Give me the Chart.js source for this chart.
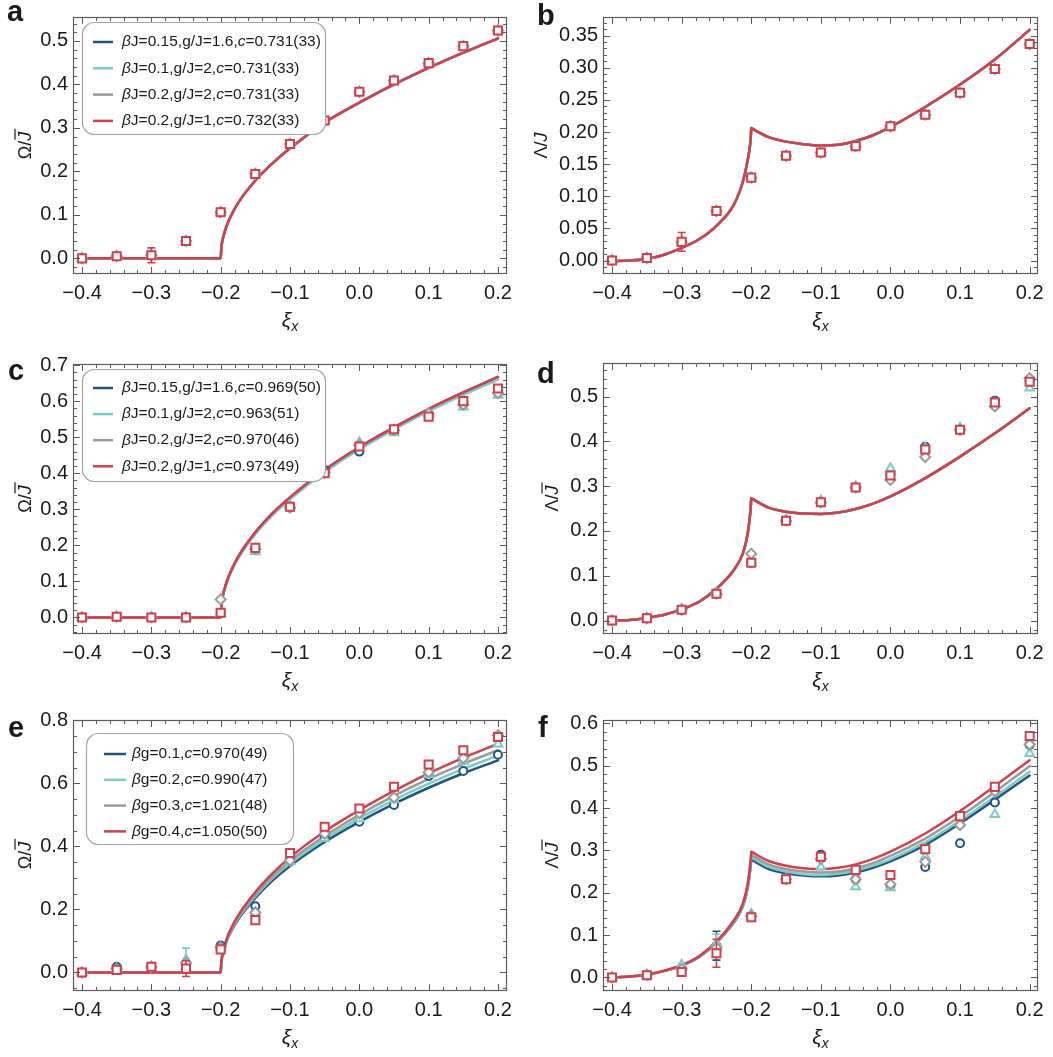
<!DOCTYPE html>
<html lang="en">
<head>
  <meta charset="UTF-8" />
  <title>Ω and Λ versus ξx</title>
  <script src="https://cdn.jsdelivr.net/npm/chart.js"></script>
  <style>
    body { margin: 0; background: #fff; }
    #wrap { position: relative; width: 1053px; height: 1057px; overflow: hidden; }
  </style>
</head>
<body>
  <div id="wrap"></div>

  <script>
    // ---- data ----
    const xData = [-0.4, -0.35, -0.3, -0.25, -0.2, -0.15, -0.1, -0.05, 0, 0.05, 0.1, 0.15, 0.2];

    // Omega curves (flat, then square-root onset at -0.2)
    const xOmega = [-0.4, -0.3, -0.2, -0.199, -0.197, -0.195, -0.19, -0.185, -0.175, -0.15, -0.125, -0.1, -0.05, 0, 0.05, 0.1, 0.15, 0.2];
    const aCurve = [0, 0, 0, 0.025, 0.044, 0.057, 0.08, 0.098, 0.127, 0.179, 0.219, 0.253, 0.312, 0.358, 0.40, 0.438, 0.473, 0.506];
    const cCurve = [0, 0, 0, 0.033, 0.058, 0.075, 0.106, 0.129, 0.167, 0.236, 0.289, 0.333, 0.409, 0.472, 0.527, 0.578, 0.624, 0.667];
    const cCurveCyan = [0, 0, 0, 0.032, 0.056, 0.073, 0.103, 0.126, 0.163, 0.231, 0.284, 0.328, 0.403, 0.466, 0.521, 0.572, 0.617, 0.66];
    const eBlue = [0, 0, 0, 0.033, 0.056, 0.075, 0.107, 0.13, 0.167, 0.236, 0.292, 0.338, 0.414, 0.478, 0.535, 0.586, 0.632, 0.673];
    const eCyan = [0, 0, 0, 0.034, 0.058, 0.077, 0.11, 0.133, 0.171, 0.242, 0.299, 0.346, 0.423, 0.489, 0.547, 0.599, 0.646, 0.688];
    const eGray = [0, 0, 0, 0.035, 0.059, 0.079, 0.112, 0.136, 0.175, 0.247, 0.306, 0.354, 0.433, 0.5, 0.56, 0.614, 0.662, 0.705];
    const eRed = [0, 0, 0, 0.035, 0.06, 0.08, 0.115, 0.14, 0.18, 0.255, 0.315, 0.365, 0.447, 0.515, 0.576, 0.632, 0.681, 0.726];

    // Lambda curves: left branch up to the cusp, right branch after it
    const xLamL = [-0.4, -0.375, -0.35, -0.325, -0.3, -0.275, -0.25, -0.225, -0.212, -0.205, -0.201, -0.2];
    const xLamR = [-0.2, -0.175, -0.15, -0.125, -0.1, -0.075, -0.05, -0.025, 0, 0.05, 0.1, 0.15, 0.2];
    const bLeft = [-0.001, 0, 0.0025, 0.009, 0.0196, 0.033, 0.054, 0.087, 0.123, 0.157, 0.187, 0.206];
    const bRight = [0.206, 0.192, 0.185, 0.181, 0.179, 0.18, 0.186, 0.195, 0.208, 0.239, 0.274, 0.313, 0.359];
    const dLeft = [0, 0.001, 0.006, 0.013, 0.025, 0.042, 0.071, 0.113, 0.15, 0.195, 0.247, 0.273];
    const dRight = [0.273, 0.252, 0.243, 0.239, 0.238, 0.241, 0.249, 0.261, 0.277, 0.318, 0.366, 0.418, 0.474];
    const fBlueL = [0, 0.002, 0.007, 0.015, 0.028, 0.048, 0.082, 0.13, 0.168, 0.212, 0.26, 0.278];
    const fCyanL = [0, 0.002, 0.007, 0.015, 0.028, 0.049, 0.083, 0.132, 0.17, 0.215, 0.265, 0.284];
    const fGrayL = [0, 0.002, 0.007, 0.016, 0.029, 0.049, 0.084, 0.133, 0.172, 0.218, 0.27, 0.29];
    const fRedL = [0, 0.002, 0.007, 0.016, 0.029, 0.05, 0.085, 0.135, 0.175, 0.222, 0.275, 0.297];
    const fBlueR = [0.278, 0.256, 0.246, 0.241, 0.239, 0.241, 0.248, 0.259, 0.274, 0.313, 0.364, 0.42, 0.477];
    const fCyanR = [0.284, 0.261, 0.25, 0.244, 0.242, 0.245, 0.252, 0.264, 0.279, 0.319, 0.37, 0.427, 0.486];
    const fGrayR = [0.29, 0.267, 0.256, 0.25, 0.248, 0.25, 0.258, 0.27, 0.287, 0.328, 0.38, 0.438, 0.499];
    const fRedR = [0.297, 0.275, 0.264, 0.258, 0.256, 0.259, 0.267, 0.28, 0.297, 0.34, 0.393, 0.452, 0.513];

    // simulation points (blue circles, cyan triangles, gray diamonds, red squares)
    const aPts = [0, 0.005, 0.007, 0.04, 0.106, 0.194, 0.263, 0.317, 0.383, 0.409, 0.449, 0.488, 0.524];
    const aErr = [0, 0, 0.017, 0, 0, 0, 0, 0, 0, 0, 0, 0, 0];
    const bPts = [0, 0.004, 0.029, 0.077, 0.129, 0.163, 0.168, 0.178, 0.209, 0.227, 0.261, 0.298, 0.337];
    const bErr = [0, 0, 0.0145, 0, 0, 0, 0, 0, 0, 0, 0, 0, 0];

    const cBluePts = [0, 0.002, 0, 0, 0.012, 0.19, 0.305, 0.409, 0.46, 0.52, 0.56, 0.598, 0.63];
    const cCyanPts = [0, 0.002, 0, 0, 0.01, 0.182, 0.31, 0.403, 0.486, 0.512, 0.565, 0.584, 0.616];
    const cGrayPts = [0, 0.002, 0, 0, 0.05, 0.19, 0.305, 0.402, 0.478, 0.52, 0.566, 0.59, 0.622];
    const cRedPts = [0, 0.002, 0, 0, 0.013, 0.193, 0.307, 0.40, 0.474, 0.522, 0.557, 0.6, 0.635];

    const dBluePts = [0, 0.005, 0.024, 0.06, 0.129, 0.223, 0.264, 0.297, 0.326, 0.388, 0.426, 0.491, 0.533];
    const dCyanPts = [0, 0.006, 0.026, 0.062, 0.13, 0.225, 0.268, 0.3, 0.34, 0.385, 0.43, 0.485, 0.519];
    const dGrayPts = [0, 0.005, 0.024, 0.06, 0.149, 0.223, 0.264, 0.297, 0.314, 0.365, 0.426, 0.478, 0.541];
    const dRedPts = [0, 0.005, 0.024, 0.06, 0.129, 0.223, 0.264, 0.297, 0.324, 0.382, 0.426, 0.487, 0.533];

    const eBluePts = [0, 0.018, 0.018, 0.03, 0.085, 0.21, 0.36, 0.43, 0.478, 0.531, 0.623, 0.639, 0.691];
    const eCyanPts = [0, 0.012, 0.018, 0.04, 0.08, 0.19, 0.35, 0.425, 0.488, 0.548, 0.628, 0.67, 0.725];
    const eGrayPts = [0, 0.012, 0.018, 0.03, 0.08, 0.19, 0.355, 0.44, 0.505, 0.555, 0.635, 0.68, 0.753];
    const eRedPts = [0, 0.008, 0.018, 0.012, 0.073, 0.166, 0.379, 0.462, 0.52, 0.589, 0.66, 0.705, 0.747];
    const eCyanErr = [0, 0, 0, 0.037, 0, 0, 0, 0, 0, 0, 0, 0, 0];
    const eRedErr = [0, 0, 0, 0.025, 0, 0, 0, 0, 0, 0, 0, 0, 0];

    const fBluePts = [0, 0.006, 0.02, 0.075, 0.145, 0.232, 0.29, 0.232, 0.218, 0.261, 0.317, 0.413, 0.549];
    const fCyanPts = [0, 0.006, 0.03, 0.08, 0.15, 0.232, 0.261, 0.214, 0.212, 0.285, 0.365, 0.385, 0.529];
    const fGrayPts = [0, 0.006, 0.02, 0.07, 0.145, 0.232, 0.28, 0.232, 0.22, 0.273, 0.36, 0.44, 0.55];
    const fRedPts = [0, 0.005, 0.013, 0.057, 0.142, 0.232, 0.285, 0.254, 0.242, 0.303, 0.381, 0.45, 0.57];
    const fBlueErr = [0, 0, 0, 0.034, 0, 0, 0, 0, 0, 0, 0, 0, 0];
    const fCyanErr = [0, 0, 0, 0.022, 0, 0, 0, 0, 0, 0, 0, 0, 0];
    const fRedErr = [0, 0, 0, 0.033, 0, 0, 0, 0, 0, 0, 0, 0, 0];

    const legendAB = ['βJ=0.15,g/J=1.6,c=0.731(33)', 'βJ=0.1,g/J=2,c=0.731(33)', 'βJ=0.2,g/J=2,c=0.731(33)', 'βJ=0.2,g/J=1,c=0.732(33)'];
    const legendCD = ['βJ=0.15,g/J=1.6,c=0.969(50)', 'βJ=0.1,g/J=2,c=0.963(51)', 'βJ=0.2,g/J=2,c=0.970(46)', 'βJ=0.2,g/J=1,c=0.973(49)'];
    const legendEF = ['βg=0.1,c=0.970(49)', 'βg=0.2,c=0.990(47)', 'βg=0.3,c=1.021(48)', 'βg=0.4,c=1.050(50)'];

    const xTicks = [-0.4, -0.3, -0.2, -0.1, 0, 0.1, 0.2];

    // ---- styling ----
    const FONT = '"Liberation Sans", Arial, sans-serif';
    Chart.defaults.font.family = FONT;
    const COLORS = ['#205482', '#7ccbc5', '#9b9b9b', '#d2404b'];
    const SHAPES = [['circle', 4], ['triangle', 5], ['rectRot', 5], ['rect', 5.7]];

    function pts(xs, ys) { return xs.map((x, i) => ({ x: x, y: ys[i] })); }
    function cusp(xl, yl, xr, yr) { return pts(xl, yl).concat([{ x: -0.2, y: null }], pts(xr, yr)); }
    function steps(lo, hi, st) {
      const out = [];
      for (let k = Math.ceil(lo / st - 1e-6); k * st <= hi + 1e-9; k++) out.push(+(k * st).toFixed(4));
      return out;
    }
    function fmt(v, d) { return (v < -1e-9 ? '\u2212' : '') + Math.abs(v).toFixed(d); }

    function rrect(ctx, x, y, w, h, r) {
      ctx.beginPath();
      ctx.moveTo(x + r, y);
      ctx.arcTo(x + w, y, x + w, y + h, r);
      ctx.arcTo(x + w, y + h, x, y + h, r);
      ctx.arcTo(x, y + h, x, y, r);
      ctx.arcTo(x, y, x + w, y, r);
      ctx.closePath();
    }

    const deco = {
      id: 'deco',
      beforeDatasetDraw(chart, args) {
        const ds = chart.data.datasets[args.index];
        if (!ds.errs) return;
        const ctx = chart.ctx, ys = chart.scales.y;
        ctx.save();
        ctx.strokeStyle = ds.pointBorderColor;
        ctx.lineWidth = 1.6;
        ds.errs.forEach((e, i) => {
          if (!e) return;
          const px = args.meta.data[i].x, v = ds.data[i].y;
          const y1 = ys.getPixelForValue(v - e), y2 = ys.getPixelForValue(v + e);
          ctx.beginPath();
          ctx.moveTo(px, y1); ctx.lineTo(px, y2);
          ctx.moveTo(px - 4, y1); ctx.lineTo(px + 4, y1);
          ctx.moveTo(px - 4, y2); ctx.lineTo(px + 4, y2);
          ctx.stroke();
        });
        ctx.restore();
      },
      afterDraw(chart, args, o) {
        const ctx = chart.ctx, a = chart.chartArea, xs = chart.scales.x, ys = chart.scales.y;
        ctx.save();
        ctx.strokeStyle = '#5c5c5c';
        ctx.lineWidth = 1;
        const seg = (x1, y1, x2, y2) => { ctx.beginPath(); ctx.moveTo(x1, y1); ctx.lineTo(x2, y2); ctx.stroke(); };
        const tick = (vals, len) => {
          vals.forEach(v => {
            if (v < xs.min || v > xs.max) return;
            const p = Math.round(xs.getPixelForValue(v)) + 0.5;
            seg(p, a.bottom, p, a.bottom - len); seg(p, a.top, p, a.top + len);
          });
        };
        const ytick = (vals, len) => {
          vals.forEach(v => {
            if (v < ys.min || v > ys.max) return;
            const p = Math.round(ys.getPixelForValue(v)) + 0.5;
            seg(a.left, p, a.left + len, p); seg(a.right, p, a.right - len, p);
          });
        };
        tick(steps(xs.min, xs.max, 0.02), 4);
        tick(xTicks, 7);
        ytick(steps(ys.min, ys.max, o.yMinor), 4);
        ytick(o.yMajor, 7);
        ctx.lineWidth = 1.2;
        ctx.strokeRect(a.left + 0.5, a.top + 0.5, a.right - a.left - 1, a.bottom - a.top - 1);

        // axis titles
        ctx.fillStyle = '#1a1a1a';
        ctx.textBaseline = 'alphabetic';
        ctx.textAlign = 'left';
        ctx.font = 'italic 21px ' + FONT;
        const w1 = ctx.measureText('ξ').width;
        ctx.font = 'italic 14px ' + FONT;
        const w2 = ctx.measureText('x').width;
        const x0 = (a.left + a.right) / 2 - (w1 + w2) / 2, yb = a.bottom + 53;
        ctx.font = 'italic 21px ' + FONT;
        ctx.fillText('ξ', x0, yb);
        ctx.font = 'italic 14px ' + FONT;
        ctx.fillText('x', x0 + w1, yb + 4);

        ctx.save();
        ctx.translate(a.left - o.yTitleOff, (a.top + a.bottom) / 2);
        ctx.rotate(-Math.PI / 2);
        ctx.font = '18px ' + FONT;
        const p1 = ctx.measureText(o.yTitle[0]).width;
        ctx.font = 'italic 18px ' + FONT;
        const p2 = ctx.measureText(o.yTitle[1]).width;
        const s = -(p1 + p2) / 2;
        ctx.font = '18px ' + FONT;
        ctx.fillText(o.yTitle[0], s, 0);
        ctx.font = 'italic 18px ' + FONT;
        ctx.fillText(o.yTitle[1], s + p1, 0);
        if (o.yTitle[2]) {
          ctx.strokeStyle = '#1a1a1a';
          ctx.lineWidth = 1.2;
          seg(s + p1 + 1, -16, s + p1 + p2 + 3, -16);
        }
        ctx.restore();

        // panel letter
        ctx.font = 'bold 29px ' + FONT;
        ctx.fillStyle = '#1a1a1a';
        ctx.fillText(o.letter[0], o.letter[1], o.letter[2]);

        // legend
        if (o.legend) {
          const L = o.legend, bx = a.left + L.dx, by = a.top + L.dy;
          rrect(ctx, bx + 0.5, by + 0.5, L.w, L.h, 12);
          ctx.fillStyle = '#fff';
          ctx.fill();
          ctx.strokeStyle = '#a3a3a3';
          ctx.lineWidth = 1.2;
          ctx.stroke();
          const curves = chart.data.datasets.filter(d => d.label);
          curves.forEach((d, i) => {
            const ry = by + L.row0 + i * L.dy2;
            ctx.strokeStyle = d.borderColor;
            ctx.lineWidth = 2.5;
            seg(bx + L.lx, ry, bx + L.lx + L.lw, ry);
            ctx.fillStyle = '#1a1a1a';
            ctx.textBaseline = 'middle';
            let cx = bx + L.tx;
            for (const ch of d.label) {
              const it = ch === 'β' || ch === 'c';
              ctx.font = (it ? 'italic ' : '') + '15.5px ' + FONT;
              ctx.fillText(ch, cx, ry);
              cx += ctx.measureText(ch).width;
            }
          });
        }
        ctx.restore();
      }
    };

    function makePanel(p) {
      const cv = document.createElement('canvas');
      cv.width = p.box[2]; cv.height = p.box[3];
      cv.style.cssText = 'position:absolute;left:' + p.box[0] + 'px;top:' + p.box[1] + 'px;';
      document.getElementById('wrap').appendChild(cv);

      const datasets = [];
      p.curves.forEach((c, i) => {
        datasets.push({
          label: p.labels ? p.labels[i] : undefined,
          data: c, showLine: true, borderColor: COLORS[i], borderWidth: 2.5,
          pointRadius: 0, cubicInterpolationMode: 'monotone', borderCapStyle: 'round',
          order: 20 - i
        });
      });
      p.points.forEach((ys, i) => {
        datasets.push({
          data: pts(xData, ys), showLine: false,
          pointStyle: SHAPES[i][0], pointRadius: SHAPES[i][1], pointBorderWidth: 2,
          pointBorderColor: COLORS[i], pointBackgroundColor: '#fff',
          errs: p.errs ? p.errs[i] : null, order: 10 - i
        });
      });

      const [bx, by, bw, bh] = p.box, [al, at, ar, ab] = p.area;
      new Chart(cv, {
        type: 'scatter',
        data: { datasets: datasets },
        options: {
          responsive: false, animation: false, devicePixelRatio: 1,
          layout: { padding: { left: 0, top: at - by, right: bx + bw - ar, bottom: 0 } },
          plugins: {
            legend: { display: false }, tooltip: { enabled: false },
            deco: { yMajor: p.yMajor, yMinor: p.yMinor, yTitle: p.yTitle, yTitleOff: p.yTitleOff, letter: p.letter, legend: p.legend }
          },
          scales: {
            x: {
              type: 'linear', min: p.xr[0], max: p.xr[1],
              grid: { display: false, drawTicks: false }, border: { display: false },
              afterBuildTicks: s => { s.ticks = xTicks.map(v => ({ value: v })); },
              afterFit: s => { s.height = by + bh - ab; },
              ticks: { autoSkip: false, maxRotation: 0, padding: 7, color: '#1a1a1a', font: { size: 20 }, callback: v => fmt(v, 1) }
            },
            y: {
              type: 'linear', min: p.yr[0], max: p.yr[1],
              grid: { display: false, drawTicks: false }, border: { display: false },
              afterBuildTicks: s => { s.ticks = p.yMajor.map(v => ({ value: v })); },
              afterFit: s => { s.width = al - bx; },
              ticks: { autoSkip: false, padding: 5, color: '#1a1a1a', font: { size: 20 }, callback: v => fmt(v, p.yDec) }
            }
          }
        },
        plugins: [deco]
      });
    }

    const legA = { dx: 9, dy: 5, w: 243, h: 112, row0: 20, dy2: 26.3, lx: 11, lw: 20, tx: 40 };
    const legE = { dx: 13, dy: 13, w: 207, h: 111, row0: 21, dy2: 25.8, lx: 18, lw: 22, tx: 46 };
    const legC = { dx: 9, dy: 5, w: 243, h: 112, row0: 19, dy2: 26.1, lx: 11, lw: 20, tx: 40 };

    makePanel({
      box: [0, 0, 525, 345], area: [73, 4, 507, 274], xr: [-0.413, 0.213], yr: [-0.036, 0.555],
      yMajor: [0, 0.1, 0.2, 0.3, 0.4, 0.5], yMinor: 0.02, yDec: 1,
      yTitle: ['Ω/', 'J', true], yTitleOff: 42, letter: ['a', 7, 21], legend: legA, labels: legendAB,
      curves: [pts(xOmega, aCurve), pts(xOmega, aCurve), pts(xOmega, aCurve), pts(xOmega, aCurve)],
      points: [aPts, aPts, aPts, aPts], errs: [null, null, null, aErr]
    });
    makePanel({
      box: [525, 0, 528, 345], area: [603, 3, 1038, 274], xr: [-0.413, 0.212], yr: [-0.021, 0.379],
      yMajor: [0, 0.05, 0.1, 0.15, 0.2, 0.25, 0.3, 0.35], yMinor: 0.01, yDec: 2,
      yTitle: ['Λ/', 'J', false], yTitleOff: 56, letter: ['b', 12, 25],
      curves: [cusp(xLamL, bLeft, xLamR, bRight), cusp(xLamL, bLeft, xLamR, bRight), cusp(xLamL, bLeft, xLamR, bRight), cusp(xLamL, bLeft, xLamR, bRight)],
      points: [bPts, bPts, bPts, bPts], errs: [null, null, null, bErr]
    });
    makePanel({
      box: [0, 345, 525, 355], area: [73, 364, 507, 634], xr: [-0.413, 0.213], yr: [-0.046, 0.703],
      yMajor: [0, 0.1, 0.2, 0.3, 0.4, 0.5, 0.6, 0.7], yMinor: 0.02, yDec: 1,
      yTitle: ['Ω/', 'J', true], yTitleOff: 42, letter: ['c', 8, 35], legend: legC, labels: legendCD,
      curves: [pts(xOmega, cCurve), pts(xOmega, cCurveCyan), pts(xOmega, cCurve), pts(xOmega, cCurve)],
      points: [cBluePts, cCyanPts, cGrayPts, cRedPts]
    });
    makePanel({
      box: [525, 345, 528, 355], area: [603, 363, 1038, 634], xr: [-0.413, 0.212], yr: [-0.03, 0.575],
      yMajor: [0, 0.1, 0.2, 0.3, 0.4, 0.5], yMinor: 0.02, yDec: 1,
      yTitle: ['Λ/', 'J', true], yTitleOff: 45, letter: ['d', 12, 38],
      curves: [cusp(xLamL, dLeft, xLamR, dRight), cusp(xLamL, dLeft, xLamR, dRight), cusp(xLamL, dLeft, xLamR, dRight), cusp(xLamL, dLeft, xLamR, dRight)],
      points: [dBluePts, dCyanPts, dGrayPts, dRedPts]
    });
    makePanel({
      box: [0, 700, 525, 357], area: [73, 720, 507, 991], xr: [-0.413, 0.213], yr: [-0.059, 0.801],
      yMajor: [0, 0.2, 0.4, 0.6, 0.8], yMinor: 0.05, yDec: 1,
      yTitle: ['Ω/', 'J', true], yTitleOff: 42, letter: ['e', 8, 37], legend: legE, labels: legendEF,
      curves: [pts(xOmega, eBlue), pts(xOmega, eCyan), pts(xOmega, eGray), pts(xOmega, eRed)],
      points: [eBluePts, eCyanPts, eGrayPts, eRedPts], errs: [null, eCyanErr, null, eRedErr]
    });
    makePanel({
      box: [525, 700, 528, 357], area: [603, 720, 1038, 991], xr: [-0.413, 0.212], yr: [-0.032, 0.608],
      yMajor: [0, 0.1, 0.2, 0.3, 0.4, 0.5, 0.6], yMinor: 0.02, yDec: 1,
      yTitle: ['Λ/', 'J', true], yTitleOff: 45, letter: ['f', 13, 37],
      curves: [cusp(xLamL, fBlueL, xLamR, fBlueR), cusp(xLamL, fCyanL, xLamR, fCyanR), cusp(xLamL, fGrayL, xLamR, fGrayR), cusp(xLamL, fRedL, xLamR, fRedR)],
      points: [fBluePts, fCyanPts, fGrayPts, fRedPts], errs: [fBlueErr, fCyanErr, null, fRedErr]
    });
  </script>
</body>
</html>
